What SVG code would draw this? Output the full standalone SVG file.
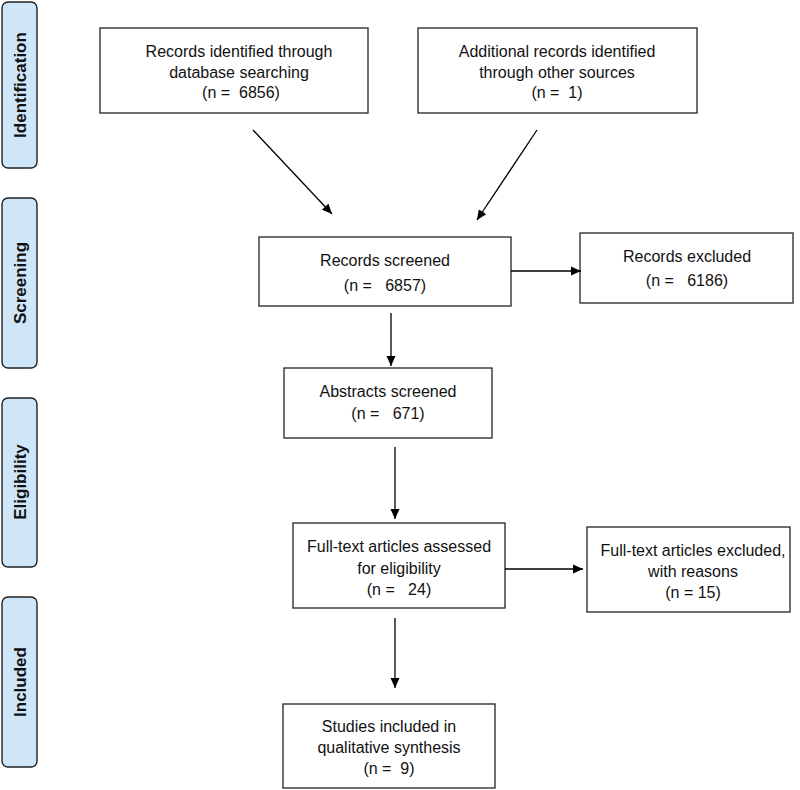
<svg xmlns="http://www.w3.org/2000/svg" width="800" height="790" viewBox="0 0 800 790">
<defs>
<marker id="ah" markerUnits="userSpaceOnUse" markerWidth="11" markerHeight="10" refX="10" refY="5" orient="auto">
<path d="M0,0.5 L10,5 L0,9.5 z" fill="#000"/>
</marker>
<style>
.tab{fill:#cfe6f8;stroke:#222;stroke-width:1.4}
.tabt{font-family:"Liberation Sans",Arial,sans-serif;font-weight:bold;font-size:17px;fill:#111;text-anchor:middle;dominant-baseline:central}
.box{fill:#fff;stroke:#333;stroke-width:1.4}
.t{font-family:"Liberation Sans",Arial,sans-serif;font-size:16px;fill:#111;text-anchor:middle;white-space:pre}
.c{stroke:#000;stroke-width:1.3;fill:none;marker-end:url(#ah)}
</style>
</defs>
<rect width="800" height="790" fill="#fff"/>
<g id="tab-identification"><rect class="tab" x="2" y="2" width="35" height="166" rx="6"/><text class="tabt" transform="translate(20,85) rotate(-90)">Identification</text></g>
<g id="tab-screening"><rect class="tab" x="2" y="198" width="35" height="170" rx="6"/><text class="tabt" transform="translate(20,283) rotate(-90)">Screening</text></g>
<g id="tab-eligibility"><rect class="tab" x="2" y="398" width="35" height="169" rx="6"/><text class="tabt" transform="translate(20,482) rotate(-90)">Eligibility</text></g>
<g id="tab-included"><rect class="tab" x="2" y="597" width="35" height="170" rx="6"/><text class="tabt" transform="translate(20,682) rotate(-90)">Included</text></g>

<g id="records-db"><rect class="box" x="100" y="28" width="268" height="85"/>
<text class="t" x="239" y="57">Records identified through</text>
<text class="t" x="239" y="78">database searching</text>
<text class="t" x="241" y="98" xml:space="preserve">(n =  6856)</text></g>
<g id="records-other"><rect class="box" x="418" y="28" width="279" height="85"/>
<text class="t" x="557" y="57">Additional records identified</text>
<text class="t" x="557" y="78">through other sources</text>
<text class="t" x="557" y="98" xml:space="preserve">(n =  1)</text></g>
<g id="records-screened"><rect class="box" x="259" y="237" width="252" height="69"/>
<text class="t" x="385" y="266">Records screened</text>
<text class="t" x="385" y="291" xml:space="preserve">(n =   6857)</text></g>
<g id="records-excluded"><rect class="box" x="580" y="233" width="213" height="70"/>
<text class="t" x="687" y="262">Records excluded</text>
<text class="t" x="687" y="286" xml:space="preserve">(n =   6186)</text></g>
<g id="abstracts-screened"><rect class="box" x="284" y="368" width="208" height="70"/>
<text class="t" x="388" y="397">Abstracts screened</text>
<text class="t" x="388" y="419" xml:space="preserve">(n =   671)</text></g>
<g id="fulltext-assessed"><rect class="box" x="293" y="523" width="212" height="85"/>
<text class="t" x="399" y="552">Full-text articles assessed</text>
<text class="t" x="399" y="574">for eligibility</text>
<text class="t" x="399" y="595" xml:space="preserve">(n =   24)</text></g>
<g id="fulltext-excluded"><rect class="box" x="587" y="527" width="203" height="85"/>
<text class="t" x="693" y="556">Full-text articles excluded,</text>
<text class="t" x="693" y="577">with reasons</text>
<text class="t" x="693" y="598">(n = 15)</text></g>
<g id="studies-included"><rect class="box" x="283" y="704" width="212" height="84"/>
<text class="t" x="389" y="732">Studies included in</text>
<text class="t" x="389" y="753">qualitative synthesis</text>
<text class="t" x="389" y="774" xml:space="preserve">(n =  9)</text></g>

<g id="connectors">
<line class="c" x1="253" y1="130" x2="332" y2="214"/>
<line class="c" x1="537" y1="130" x2="477" y2="220"/>
<line class="c" x1="511" y1="271" x2="581" y2="271"/>
<line class="c" x1="391" y1="313" x2="391" y2="366"/>
<line class="c" x1="395" y1="447" x2="395" y2="519"/>
<line class="c" x1="505" y1="569" x2="583" y2="569"/>
<line class="c" x1="395" y1="618" x2="395" y2="688"/>
</g>
</svg>
